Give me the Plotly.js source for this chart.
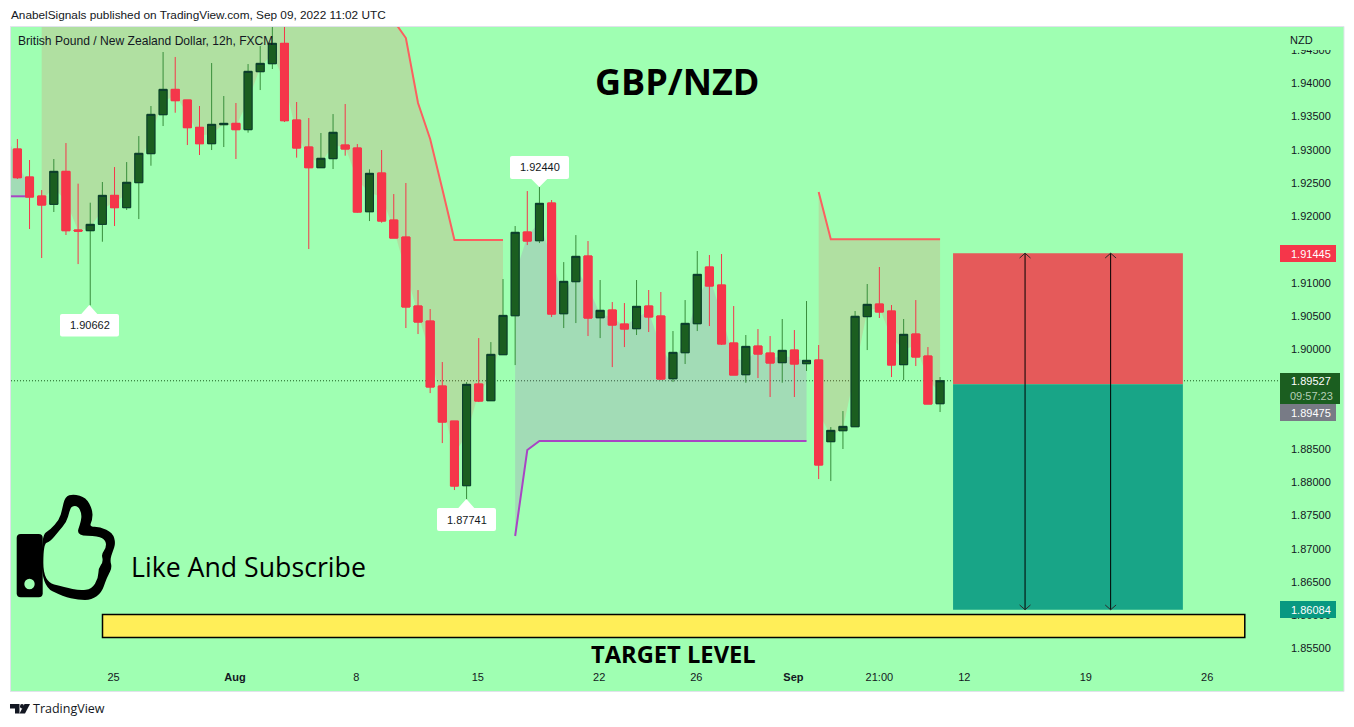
<!DOCTYPE html>
<html><head><meta charset="utf-8">
<script src="https://cdn.plot.ly/plotly-3.0.1.min.js"></script>
<style>html,body{margin:0;padding:0;background:#fff}#c{width:1354px;height:727px}</style>
</head><body><div id="c"></div>
<script>
// ---------- data ----------
var firstBar = -1;
var openP = [1.93180,1.93012,1.92591,1.92305,1.92180,1.92676,1.91794,1.91784,1.91879,1.92315,1.92130,1.92506,1.92942,1.93528,1.93909,1.93749,1.93338,1.93092,1.93378,1.93398,1.93303,1.94175,1.94295,1.94601,1.93448,1.93042,1.92731,1.92867,1.93072,1.93027,1.92069,1.92651,1.91944,1.91688,1.90651,1.90425,1.89448,1.88921,1.87949,1.89478,1.89227,1.89919,1.90505,1.91764,1.91633,1.92200,1.90535,1.91017,1.91403,1.90475,1.90591,1.90380,1.90310,1.90651,1.90501,1.89558,1.89949,1.90385,1.91238,1.90967,1.90095,1.89618,1.90049,1.89944,1.89799,1.89989,1.89784,1.89839,1.88611,1.88776,1.88836,1.90491,1.90681,1.90576,1.89769,1.90230,1.89899,1.89182];
var highP = [1.93500,1.93162,1.92847,1.92395,1.92862,1.93102,1.92491,1.92205,1.92516,1.92741,1.92816,1.93207,1.93659,1.94471,1.94396,1.93749,1.93659,1.94305,1.93809,1.93704,1.94290,1.94561,1.94900,1.95000,1.93719,1.93478,1.93253,1.93538,1.93689,1.93087,1.92706,1.92997,1.92335,1.92501,1.90891,1.90606,1.89809,1.88921,1.89508,1.90169,1.90109,1.91057,1.91854,1.92380,1.92440,1.92245,1.91312,1.91718,1.91628,1.91042,1.90711,1.90696,1.91042,1.90892,1.90862,1.90275,1.90741,1.91478,1.91418,1.91433,1.90651,1.90215,1.90305,1.90200,1.90456,1.90290,1.90726,1.90065,1.88831,1.89072,1.90576,1.90982,1.91238,1.90666,1.90456,1.90741,1.90034,1.89583];
var lowP = [1.93100,1.92561,1.91809,1.91373,1.92065,1.91719,1.91282,1.90662,1.91618,1.91854,1.92095,1.91959,1.92761,1.93358,1.93558,1.93072,1.92922,1.92997,1.93042,1.92862,1.93258,1.93899,1.94215,1.93418,1.92882,1.91508,1.92731,1.92711,1.92912,1.92054,1.91929,1.91904,1.91673,1.90320,1.90230,1.89342,1.88590,1.87884,1.87741,1.89207,1.89227,1.89919,1.89763,1.91568,1.91598,1.90485,1.90320,1.90395,1.90200,1.90169,1.89733,1.90034,1.90215,1.90260,1.89538,1.89508,1.89779,1.90275,1.90350,1.90065,1.89613,1.89498,1.89568,1.89283,1.89498,1.89283,1.89674,1.88049,1.88019,1.88501,1.88836,1.89989,1.90471,1.89583,1.89538,1.89749,1.89177,1.89057];
var closeP = [1.93450,1.92581,1.92290,1.92170,1.92676,1.91784,1.91779,1.91879,1.92315,1.92130,1.92511,1.92947,1.93533,1.93909,1.93739,1.93333,1.93092,1.93383,1.93398,1.93303,1.94180,1.94300,1.94601,1.93438,1.93027,1.92731,1.92872,1.93263,1.93012,1.92064,1.92646,1.91929,1.91673,1.90636,1.90410,1.89433,1.88906,1.87944,1.89473,1.89222,1.89924,1.90510,1.91759,1.91628,1.92195,1.90530,1.91022,1.91398,1.90470,1.90586,1.90365,1.90305,1.90646,1.90486,1.89553,1.89954,1.90390,1.91127,1.90952,1.90080,1.89613,1.90044,1.89929,1.89794,1.89984,1.89779,1.89834,1.88260,1.88781,1.88841,1.90496,1.90676,1.90561,1.89764,1.90225,1.89884,1.89177,1.89527];

var lowerBandA = [1.92301,1.92301,1.92301];                 // bars -1..1
var upperBandA = [1.96,1.96,1.96,1.96,1.96,1.96,1.96,1.96,1.96,1.96,1.96,1.96,1.96,1.96,1.96,1.96,1.96,1.96,1.96,1.96,1.96,1.96,1.96,1.96,1.96,1.96,1.96,1.96,1.96,1.94940,1.94681,1.93704,1.93162,1.92411,1.91644,1.91644,1.91644,1.91644,1.91644]; // bars 2..40
var lowerBandB = [1.87193,1.88486,1.88621,1.88621,1.88621,1.88621,1.88621,1.88621,1.88621,1.88621,1.88621,1.88621,1.88621,1.88621,1.88621,1.88621,1.88621,1.88621,1.88621,1.88621,1.88621,1.88621,1.88621,1.88621,1.88621]; // bars 41..65
var upperBandB = [1.92365,1.91654,1.91654,1.91654,1.91654,1.91654,1.91654,1.91654,1.91654,1.91654,1.91654]; // bars 66..76

var yTicks = [1.855,1.86,1.865,1.87,1.875,1.88,1.885,1.89,1.895,1.90,1.905,1.91,1.915,1.92,1.925,1.93,1.935,1.94,1.945];
var xTickBars = [7.92,17.92,27.92,37.92,47.92,55.92,63.92,71,78,88,98];
var xTickText = ['25','<b>Aug</b>','8','15','22','26','<b>Sep</b>','21:00','12','19','26'];

var stopPrice = 1.91445, entryPrice = 1.89475, targetPrice = 1.86084, lastPrice = 1.89527;
var boxBars = [77.07, 96], arrowBars = [83, 90.05], targetBars = [7.01, 101.1], targetLevel = [1.85666, 1.86012];
var calloutPrices = ['1.90662', '1.87741', '1.92440'];

// ---------- styles ----------
var BG = '#9fffb2', RED = '#f5364a', WICK = '#388e3c', BODY = '#1b5e20', EDGE = '#0b3b2e', TXT = '#131722';
var FONT = 'Liberation Sans, sans-serif', BIG = '"Open Sans", sans-serif';

// ---------- pane geometry (pixel helpers for decoration only) ----------
var W = 1354, H = 727, L = 11, R = 1280, T = 27, B = 664;
function px(x){ return (x - L) / (R - L); }
function py(y){ return (B - y) / (B - T); }
function pt(x, y){ return px(x).toFixed(5) + ',' + py(y).toFixed(5); }
function smooth(pts){
  var n = pts.length, s = '';
  for (var i = 0; i < n; i++){
    var a = pts[i], b = pts[(i + 1) % n];
    if (i === 0) s += 'M' + pt((a[0] + b[0]) / 2, (a[1] + b[1]) / 2);
    var d = pts[(i + 2) % n];
    s += 'Q' + pt(b[0], b[1]) + ' ' + pt((b[0] + d[0]) / 2, (b[1] + d[1]) / 2);
  }
  return s + 'Z';
}
function poly(pts){ return 'M' + pts.map(function(p){ return pt(p[0], p[1]); }).join('L') + 'Z'; }
function roundRect(x0, y0, x1, y1, r){
  return 'M' + pt(x0 + r, y0) + 'L' + pt(x1 - r, y0) + 'Q' + pt(x1, y0) + ' ' + pt(x1, y0 + r) +
    'L' + pt(x1, y1 - r) + 'Q' + pt(x1, y1) + ' ' + pt(x1 - r, y1) +
    'L' + pt(x0 + r, y1) + 'Q' + pt(x0, y1) + ' ' + pt(x0, y1 - r) +
    'L' + pt(x0, y0 + r) + 'Q' + pt(x0, y0) + ' ' + pt(x0 + r, y0) + 'Z';
}
function zt(list){ return list.map(function(p){ return [p[0] / 3, 480 + p[1] / 3]; }); }
function pathShape(path, color, layer){
  return {type:'path', xref:'paper', yref:'paper', path:path, fillcolor:color, line:{width:0}, layer:layer || 'above'};
}

// ---------- traces ----------
var barIdx = openP.map(function(_, i){ return i + firstBar; });
var mid = openP.map(function(o, i){ return (o + closeP[i]) / 2; });
function band(startBar, values, lineColor, fillColor){
  var xs = values.map(function(_, i){ return startBar + i; });
  var ms = xs.map(function(b){ return mid[b - firstBar]; });
  return [
    {type:'scatter', mode:'lines', x:xs, y:values, line:{color:lineColor, width:2}, hoverinfo:'skip'},
    {type:'scatter', mode:'none', x:xs, y:ms, fill:'tonexty', fillcolor:fillColor, hoverinfo:'skip'}
  ];
}
var REDFILL = 'rgba(255,82,82,0.18)', PURFILL = 'rgba(175,70,200,0.19)';
var PUR = '#a845c4', REDLINE = '#fb6060';
var traces = [].concat(
  band(-1, lowerBandA, PUR, PURFILL),
  band(2, upperBandA, REDLINE, REDFILL),
  band(41, lowerBandB, PUR, PURFILL),
  band(66, upperBandB, REDLINE, REDFILL)
);
traces.push({type:'candlestick', x:barIdx, open:openP, high:highP, low:lowP, close:closeP,
  xaxis:'x2', yaxis:'y2', whiskerwidth:0, hoverinfo:'skip',
  increasing:{line:{color:WICK, width:1}, fillcolor:BODY},
  decreasing:{line:{color:RED, width:1}, fillcolor:RED}});
traces.push({type:'candlestick', x:barIdx, open:openP, close:closeP,
  high:openP.map(function(o, i){ return Math.max(o, closeP[i]); }),
  low:openP.map(function(o, i){ return Math.min(o, closeP[i]); }),
  xaxis:'x2', yaxis:'y2', whiskerwidth:0, hoverinfo:'skip',
  increasing:{line:{color:EDGE, width:1}, fillcolor:BODY},
  decreasing:{line:{color:RED, width:1}, fillcolor:RED}});

// ---------- shapes ----------
var shapes = [
  {type:'rect', xref:'paper', yref:'paper', x0:px(10.5), x1:px(1344), y0:py(691.5), y1:py(26.5),
    fillcolor:BG, line:{color:'#e0e3eb', width:1}, layer:'below'},
  {type:'rect', x0:boxBars[0], x1:boxBars[1], y0:entryPrice, y1:stopPrice, fillcolor:'#e55a5a', line:{width:0}, layer:'below'},
  {type:'rect', x0:boxBars[0], x1:boxBars[1], y0:targetPrice, y1:entryPrice, fillcolor:'#18a587', line:{width:0}, layer:'below'},
  {type:'line', xref:'paper', x0:0, x1:1, y0:lastPrice, y1:lastPrice, line:{color:'#1b5e20', width:1, dash:'1px,2px'}, layer:'below'},
  {type:'rect', x0:targetBars[0], x1:targetBars[1], y0:targetLevel[0], y1:targetLevel[1], fillcolor:'#ffee58', line:{color:'#000', width:1.5}, layer:'below'}
];
// double-headed arrows inside the position box
arrowBars.forEach(function(b){
  shapes.push({type:'line', x0:b, x1:b, y0:targetPrice, y1:stopPrice, line:{color:'#000', width:1}, layer:'above'});
  var hx = 0.45, hy = 0.00072;
  shapes.push({type:'path', path:'M' + (b - hx) + ',' + (stopPrice - hy) + 'L' + b + ',' + stopPrice + 'L' + (b + hx) + ',' + (stopPrice - hy),
    fillcolor:'rgba(0,0,0,0)', line:{color:'#2b2b2b', width:1}, layer:'above'});
  shapes.push({type:'path', path:'M' + (b - hx) + ',' + (targetPrice + hy) + 'L' + b + ',' + targetPrice + 'L' + (b + hx) + ',' + (targetPrice + hy),
    fillcolor:'rgba(0,0,0,0)', line:{color:'#2b2b2b', width:1}, layer:'above'});
});
// thumb icon
shapes.push(pathShape(smooth(zt([[125,165],[150,150],[178,118],[186,90],[195,50],[220,42],[258,52],[278,90],[277,120],[268,140],[300,140],[338,158],[347,190],[338,215],[330,240],[336,262],[325,285],[318,300],[305,338],[275,360],[235,360],[190,350],[125,318]])), '#000'));
shapes.push(pathShape(roundRect(16.7, 534, 42.7, 597.2, 4), '#000'));
shapes.push(pathShape(smooth(zt([[130,192],[150,185],[175,155],[200,125],[208,95],[215,78],[234,78],[245,100],[243,125],[228,167],[295,167],[318,182],[318,205],[304,222],[310,245],[295,265],[295,295],[275,327],[240,332],[195,322],[130,305]])), BG));
shapes.push({type:'circle', xref:'paper', yref:'paper', x0:px(24.3), x1:px(34.7), y0:py(589.2), y1:py(578.8), fillcolor:BG, line:{width:0}, layer:'above'});
// TradingView logo
shapes.push(pathShape(poly([[10,704],[19.5,704],[19.5,713.5],[15,713.5],[15,708.5],[10,708.5]]), '#131722'));
shapes.push({type:'circle', xref:'paper', yref:'paper', x0:px(20), x1:px(24), y0:py(708.5), y1:py(704), fillcolor:'#131722', line:{width:0}, layer:'above'});
shapes.push(pathShape(poly([[24.5,704],[30,704],[25,713.5],[19.5,713.5]]), '#131722'));

function callout(x0, x1, y0, y1, tx, ty){
  var r = 2, up = ty < y0;
  var s = 'M' + pt(x0 + r, y0);
  if (up) s += 'L' + pt(tx - 8, y0) + 'L' + pt(tx, ty) + 'L' + pt(tx + 8, y0);
  s += 'L' + pt(x1 - r, y0) + 'Q' + pt(x1, y0) + ' ' + pt(x1, y0 + r) + 'L' + pt(x1, y1 - r) + 'Q' + pt(x1, y1) + ' ' + pt(x1 - r, y1);
  if (!up) s += 'L' + pt(tx + 8, y1) + 'L' + pt(tx, ty) + 'L' + pt(tx - 8, y1);
  s += 'L' + pt(x0 + r, y1) + 'Q' + pt(x0, y1) + ' ' + pt(x0, y1 - r) + 'L' + pt(x0, y0 + r) + 'Q' + pt(x0, y0) + ' ' + pt(x0 + r, y0) + 'Z';
  return pathShape(s, '#ffffff');
}
shapes.push(callout(60, 119, 314, 336.5, 89.3, 305));
shapes.push(callout(437, 496, 508, 531, 466.3, 499));
shapes.push(callout(510, 569, 156, 179, 539.3, 187));

// ---------- annotations ----------
function txt(x, y, text, size, color, xa, family){
  return {xref:'paper', yref:'paper', x:px(x), y:py(y), text:text, showarrow:false, xanchor:xa || 'left', yanchor:'middle',
    font:{size:size, color:color || TXT, family:family || FONT}, borderpad:0, borderwidth:0};
}
function box(x0, x1, y0, y1, color){
  return {xref:'paper', yref:'paper', x:px(x0), y:py(y0), text:' ', showarrow:false, xanchor:'left', yanchor:'top',
    width:x1 - x0, height:y1 - y0, bgcolor:color, borderpad:0, borderwidth:0, font:{size:1}};
}
var AX = 11;
var anns = [
  txt(11, 14.5, 'AnabelSignals published on TradingView.com, Sep 09, 2022 11:02 UTC', 11.8, TXT),
  txt(18, 41, 'British Pound / New Zealand Dollar, 12h, FXCM', 12.1, TXT),
  txt(677.5, 81, '<b>GBP/NZD</b>', 36, '#000', 'center', BIG),
  txt(673.5, 653.5, '<b>TARGET LEVEL</b>', 23.7, '#000', 'center', BIG),
  txt(131, 566, 'Like And Subscribe', 26.7, '#000', 'left', BIG),
  txt(33, 709, 'TradingView', 12.5, '#131722', 'left', BIG),
  txt(89.5, 325, calloutPrices[0], AX, TXT, 'center'),
  txt(466.5, 519.5, calloutPrices[1], AX, TXT, 'center'),
  txt(539.5, 167, calloutPrices[2], AX, TXT, 'center'),
  box(1285, 1340, 31, 50, BG),
  txt(1290, 40.5, 'NZD', AX, TXT),
  box(1280, 1336, 245.5, 262, RED),
  txt(1291, 254, stopPrice.toFixed(5), AX, '#fff'),
  box(1280, 1340, 373, 404, BODY),
  txt(1291, 381, lastPrice.toFixed(5), AX, '#fff'),
  txt(1289.5, 395.5, '09:57:23', AX, '#b5cfb6'),
  box(1280, 1336, 404, 421, '#787b86'),
  txt(1291, 412.5, entryPrice.toFixed(5), AX, '#fff'),
  box(1280, 1336, 601, 617.5, '#089981'),
  txt(1291, 609.5, targetPrice.toFixed(5), AX, '#fff')
];

// ---------- layout ----------
var xRange = [-0.527, 104.0], yRange = [1.85268, 1.94847];
var layout = {
  width:W, height:H, margin:{l:L, r:W - R, t:T, b:H - B, pad:0},
  paper_bgcolor:'#ffffff', plot_bgcolor:'rgba(0,0,0,0)', showlegend:false, hovermode:false, dragmode:false, boxgap:0.2, boxgroupgap:0.175,
  xaxis:{range:xRange, type:'linear', showgrid:false, zeroline:false, showline:false, tickmode:'array',
    tickvals:xTickBars, ticktext:xTickText, ticks:'', ticklabelstandoff:5, tickangle:0,
    tickfont:{family:FONT, size:AX, color:TXT}, rangeslider:{visible:false}, fixedrange:true},
  yaxis:{range:yRange, type:'linear', side:'right', showgrid:false, zeroline:false, showline:false, tickmode:'array',
    tickvals:yTicks, ticktext:yTicks.map(function(v){ return v.toFixed(5); }), ticks:'', ticklabelstandoff:10,
    tickfont:{family:FONT, size:AX, color:TXT}, fixedrange:true},
  xaxis2:{range:xRange, overlaying:'x', visible:false, type:'linear', rangeslider:{visible:false}, fixedrange:true},
  yaxis2:{range:yRange, overlaying:'y', visible:false, type:'linear', fixedrange:true},
  shapes:shapes, annotations:anns
};
Plotly.newPlot('c', traces, layout, {displayModeBar:false, staticPlot:true});
</script></body></html>
